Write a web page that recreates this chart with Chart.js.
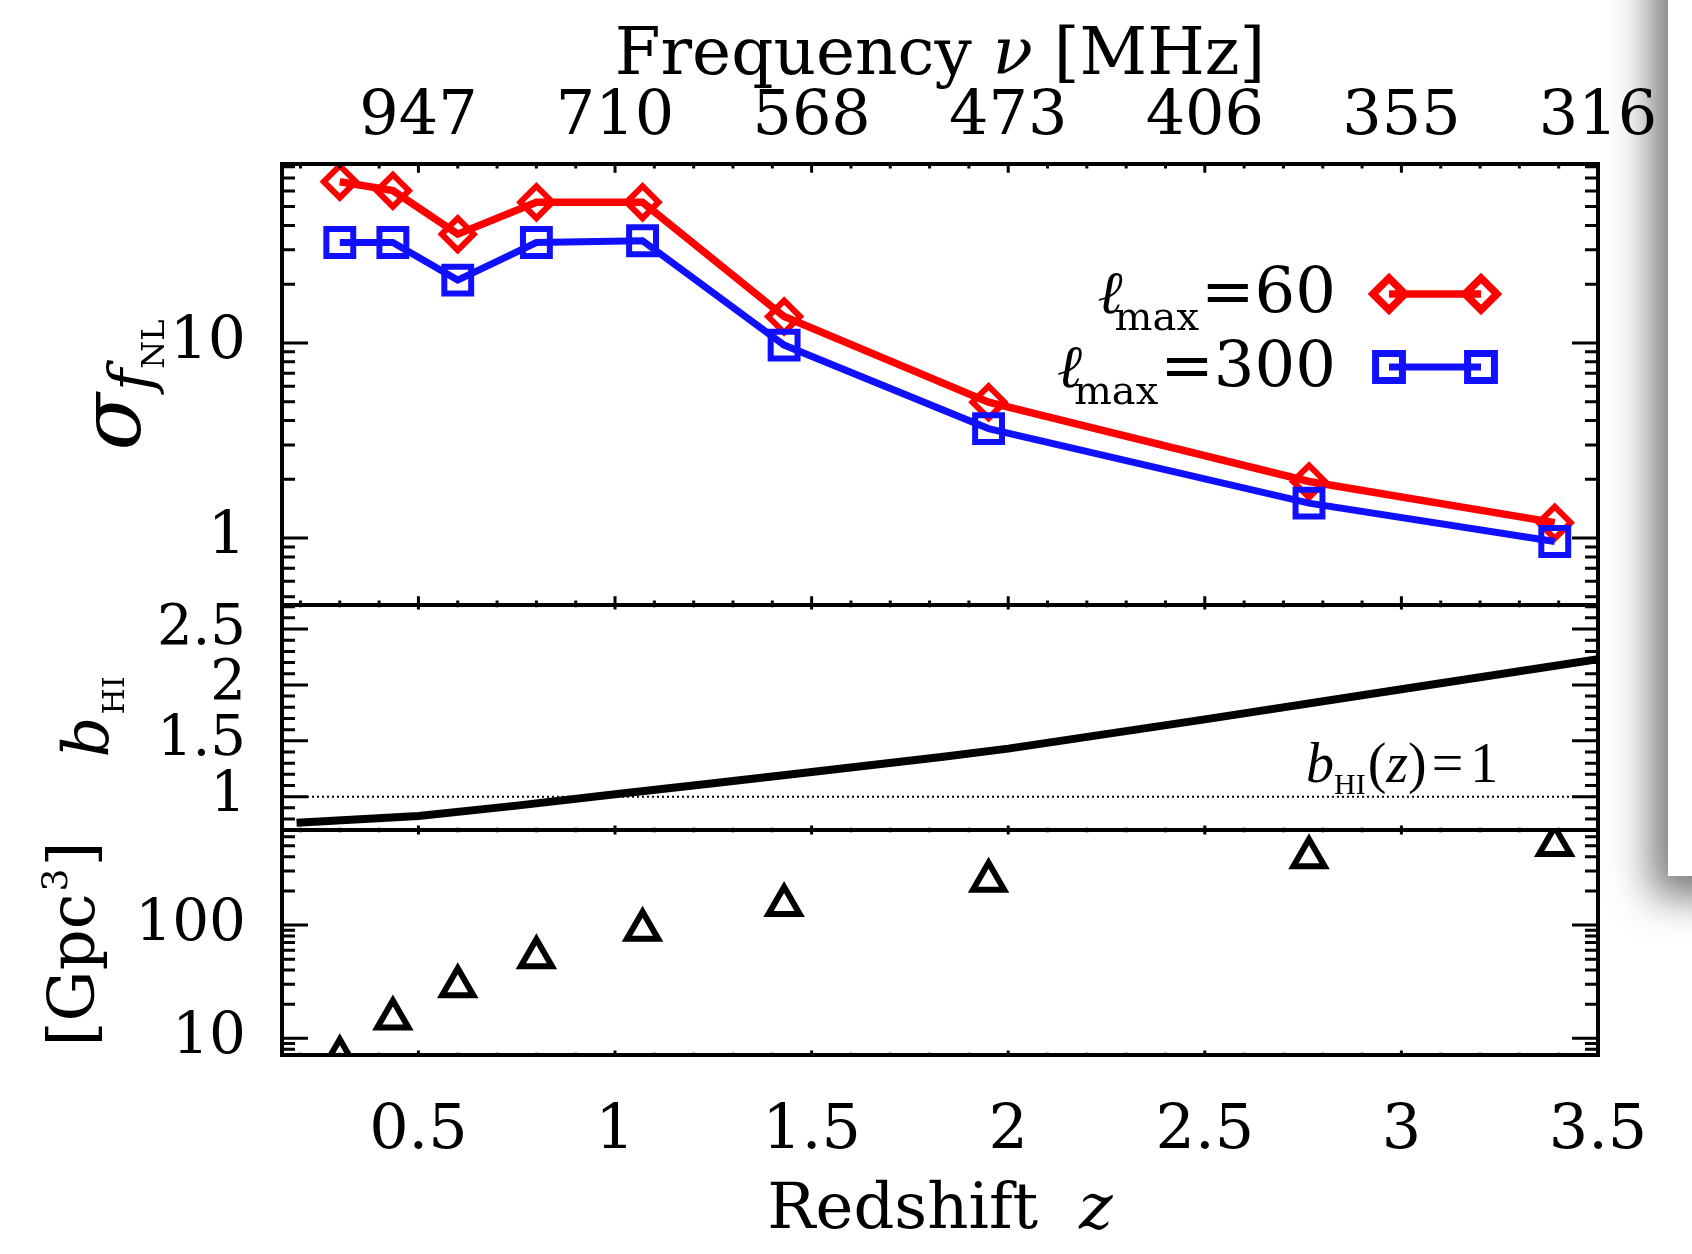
<!DOCTYPE html>
<html>
<head>
<meta charset="utf-8">
<script src="https://cdn.jsdelivr.net/npm/chart.js@4.4.1/dist/chart.umd.min.js"></script>
<style>
  html, body { margin: 0; padding: 0; background: #fff; }
  body { width: 1692px; height: 1254px; position: relative; overflow: hidden; }
  #shadowBox { position: absolute; left: 1668px; top: -60px; width: 80px; height: 936px; background: #fff;
               box-shadow: -8px 12px 42px 8px rgba(0,0,0,0.55); }
  #plot { position: absolute; left: 0; top: 0; }
</style>
</head>
<body>
<div id="shadowBox"></div>
<canvas id="plot" width="1692" height="1254"></canvas>
<script>
// redshift bins, shared by the three panels
const redshifts = [0.30, 0.435, 0.60, 0.80, 1.07, 1.43, 1.95, 2.765, 3.39];
// sigma(f_NL) forecasts
const sigmaL60  = [67.0, 60.3, 36.1, 52.6, 52.6, 13.65, 4.97, 1.95, 1.20];
const sigmaL300 = [32.7, 32.7, 21.0, 32.7, 33.4, 9.75, 3.64, 1.51, 0.96];
// bin volumes [Gpc^3]
const volumes = [6.8, 15.0, 28.8, 51.9, 90.9, 150, 246, 396, 508];
// HI bias curve b_HI(z)
const biasZ = [0.19, 0.5, 0.75, 1.0, 1.25, 1.5, 1.83, 2.0, 2.5, 3.0, 3.5];
const biasB = [0.767, 0.827, 0.92, 1.021, 1.12, 1.221, 1.355, 1.43, 1.692, 1.961, 2.229];

// axes
const zTicks = [0.5, 1, 1.5, 2, 2.5, 3, 3.5];
const zLabels = ['0.5', '1', '1.5', '2', '2.5', '3', '3.5'];
const freqLabels = ['947', '710', '568', '473', '406', '355', '316'];
const sigmaTicks = [1, 10];
const biasTicks = [1, 1.5, 2, 2.5];
const volumeTicks = [10, 100];
const lmaxLabels = ['60', '300'];

const zRange = [0.153, 3.5];
const sigmaRange = [0.454, 82.6];
const biasRange = [0.702, 2.715];
const volumeRange = [7.13, 689];

const RED = '#ff0000';
const BLUE = '#1010ff';
const SERIF = "'DejaVu Serif', serif";
const TIMES = "'Liberation Serif', serif";

const xy = (xs, ys) => xs.map((x, i) => ({ x: x, y: ys[i] }));
const fixTicks = values => axis => { axis.ticks = values.map(v => ({ value: v })); };

function drawParts(ctx, parts, x, y, align) {
  let total = 0;
  parts.forEach(p => { ctx.font = p[1]; total += ctx.measureText(p[0]).width + (p[3] || 0); });
  let cx = align === 'center' ? x - total / 2 : (align === 'right' ? x - total : x);
  parts.forEach(p => {
    ctx.font = p[1];
    cx += (p[3] || 0);
    ctx.fillText(p[0], cx, y + (p[2] || 0));
    cx += ctx.measureText(p[0]).width;
  });
}

function logMinor(min, max) {
  const out = [];
  for (let d = -1; d <= 3; d++) {
    for (let m = 2; m <= 9; m++) {
      const v = m * Math.pow(10, d);
      if (v > min && v < max) out.push(v);
    }
  }
  return out;
}

const panelDecor = {
  id: 'panelDecor',
  afterDraw(chart) {
    const ctx = chart.ctx;
    const { left, right } = chart.chartArea;
    const xs = chart.scales.x;
    const panels = [
      { s: chart.scales.ySig, major: sigmaTicks, minor: logMinor(sigmaRange[0], sigmaRange[1]) },
      { s: chart.scales.yBias, major: biasTicks, minor: [0.8, 0.9, 1.1, 1.2, 1.3, 1.4, 1.6, 1.7, 1.8, 1.9, 2.1, 2.2, 2.3, 2.4, 2.6, 2.7] },
      { s: chart.scales.yVol, major: volumeTicks, minor: logMinor(volumeRange[0], volumeRange[1]) }
    ];
    const zMinor = [];
    for (let k = 2; k <= 34; k++) if (k % 5 !== 0) zMinor.push(k / 10);

    ctx.save();
    ctx.strokeStyle = '#000';
    ctx.lineCap = 'butt';
    panels.forEach(p => {
      const top = p.s.top, bot = p.s.bottom, h = bot - top;
      ctx.lineWidth = 3;
      ctx.beginPath();
      // x ticks, top and bottom edge of the panel
      [[zTicks, 0.02 * h], [zMinor, 0.01 * h]].forEach(([vals, len]) => {
        vals.forEach(v => {
          const px = xs.getPixelForValue(v);
          ctx.moveTo(px, top); ctx.lineTo(px, top + len);
          ctx.moveTo(px, bot); ctx.lineTo(px, bot - len);
        });
      });
      // y ticks, left and right edge
      [[p.major, 26], [p.minor, 13]].forEach(([vals, len]) => {
        vals.forEach(v => {
          const py = p.s.getPixelForValue(v);
          ctx.moveTo(left, py); ctx.lineTo(left + len, py);
          ctx.moveTo(right, py); ctx.lineTo(right - len, py);
        });
      });
      ctx.stroke();
      ctx.lineWidth = 4;
      ctx.strokeRect(left, top, right - left, h);
    });

    ctx.fillStyle = '#000';
    ctx.textBaseline = 'alphabetic';
    const midX = (left + right) / 2;
    // axis titles
    drawParts(ctx, [['Frequency ', '66px ' + SERIF], ['\u03bd', 'italic 66px ' + SERIF], [' [MHz]', '66px ' + SERIF]], midX, 74, 'center');
    drawParts(ctx, [['Redshift  ', '64px ' + SERIF], ['z', 'italic 64px ' + SERIF]], midX, 1228, 'center');

    const rot = (x, y, parts) => {
      ctx.save();
      ctx.translate(x, y);
      ctx.rotate(-Math.PI / 2);
      drawParts(ctx, parts, 0, 0, 'center');
      ctx.restore();
    };
    rot(140, 385, [['\u03c3', 'italic 84px ' + SERIF], ['f', 'italic 60px ' + SERIF, 12, 2], ['NL', '32px ' + SERIF, 24, 0]]);
    rot(108, 717, [['b', 'italic 64px ' + SERIF], ['HI', '30px ' + SERIF, 16, 2]]);
    rot(94, 944, [['[Gpc', '64px ' + SERIF], ['3', '36px ' + SERIF, -27, 2], [']', '64px ' + SERIF, 0, 2]]);

    // legend
    const ds = chart.data.datasets;
    const rows = [{ d: ds[0], lab: lmaxLabels[0], base: 313, yl: 294 }, { d: ds[1], lab: lmaxLabels[1], base: 387, yl: 367 }];
    rows.forEach(r => {
      ctx.fillStyle = '#000';
      drawParts(ctx, [['\u2113', 'italic 60px ' + SERIF], ['max', '40px ' + SERIF, 17, -8], ['=' + r.lab, '64px ' + SERIF, 0, 2]], 1336, r.base, 'right');
      ctx.strokeStyle = r.d.borderColor;
      ctx.lineWidth = r.d.borderWidth;
      ctx.beginPath(); ctx.moveTo(1389, r.yl); ctx.lineTo(1481, r.yl); ctx.stroke();
      const opts = { pointStyle: r.d.pointStyle, radius: r.d.pointRadius, borderWidth: r.d.pointBorderWidth, rotation: 0 };
      ctx.fillStyle = 'rgba(0,0,0,0)';
      Chart.helpers.drawPoint(ctx, opts, 1389, r.yl);
      Chart.helpers.drawPoint(ctx, opts, 1481, r.yl);
    });

    // b_HI(z) = 1 label
    ctx.fillStyle = '#000';
    const yb = chart.scales.yBias.getPixelForValue(1) - 15;
    drawParts(ctx, [['b', 'italic 56px ' + TIMES], ['HI', '30px ' + TIMES, 12, 0], ['(', '56px ' + TIMES, 0, 2], ['z', 'italic 56px ' + TIMES], [')', '56px ' + TIMES], ['=', '56px ' + TIMES, 0, 5], ['1', '56px ' + TIMES, 0, 7]], 1306, yb, 'left');
    ctx.restore();
  }
};

const tickFont = size => ({ family: SERIF, size: size });

new Chart(document.getElementById('plot'), {
  type: 'line',
  data: {
    datasets: [
      {
        label: 'lmax=60', data: xy(redshifts, sigmaL60), yAxisID: 'ySig', order: 2,
        borderColor: RED, borderWidth: 7.5, pointStyle: 'rectRot', pointRadius: 16, pointBorderWidth: 6,
        pointBorderColor: RED, pointBackgroundColor: 'rgba(0,0,0,0)', clip: 0
      },
      {
        label: 'lmax=300', data: xy(redshifts, sigmaL300), yAxisID: 'ySig', order: 1,
        borderColor: BLUE, borderWidth: 7, pointStyle: 'rect', pointRadius: 19, pointBorderWidth: 6,
        pointBorderColor: BLUE, pointBackgroundColor: 'rgba(0,0,0,0)', clip: 0
      },
      {
        label: 'b_HI', data: xy(biasZ, biasB), yAxisID: 'yBias', order: 3,
        borderColor: '#000', borderWidth: 8, pointRadius: 0, clip: 0
      },
      {
        label: 'b_HI = 1', data: xy(zRange, [1, 1]), yAxisID: 'yBias', order: 4,
        borderColor: '#000', borderWidth: 2, borderDash: [2, 3], pointRadius: 0, clip: 0
      },
      {
        label: 'volume', data: xy(redshifts, volumes), yAxisID: 'yVol', order: 5, showLine: false,
        pointStyle: 'triangle', pointRadius: 18, pointBorderWidth: 6, pointBorderColor: '#000',
        pointBackgroundColor: 'rgba(0,0,0,0)', clip: 0
      }
    ]
  },
  options: {
    responsive: false,
    devicePixelRatio: 1,
    animation: false,
    events: [],
    layout: { padding: { left: 0, right: 94, top: 0, bottom: 0 } },
    plugins: { legend: { display: false }, tooltip: { enabled: false } },
    scales: {
      x: {
        type: 'linear', position: 'bottom', min: zRange[0], max: zRange[1],
        afterBuildTicks: fixTicks(zTicks),
        ticks: { font: tickFont(62), color: '#000', padding: 32, maxRotation: 0, autoSkip: false, callback: (v, i) => zLabels[i] },
        grid: { display: false }, border: { display: false },
        afterFit: s => { s.height = 199; }
      },
      xTop: {
        type: 'linear', position: 'top', min: zRange[0], max: zRange[1],
        afterBuildTicks: fixTicks(zTicks),
        ticks: { font: tickFont(62), color: '#000', padding: 1, maxRotation: 0, autoSkip: false, callback: (v, i) => freqLabels[i] },
        grid: { display: false }, border: { display: false },
        afterFit: s => { s.height = 164; }
      },
      yVol: {
        type: 'logarithmic', position: 'left', stack: 'panels', stackWeight: 225,
        min: volumeRange[0], max: volumeRange[1],
        afterBuildTicks: fixTicks(volumeTicks),
        ticks: { font: tickFont(58), color: '#000', padding: 28, autoSkip: false, callback: v => String(v) },
        grid: { display: false }, border: { display: false },
        afterFit: s => { s.width = 282; }
      },
      yBias: {
        type: 'linear', position: 'left', stack: 'panels', stackWeight: 225,
        min: biasRange[0], max: biasRange[1],
        afterBuildTicks: fixTicks(biasTicks),
        ticks: { font: tickFont(56), color: '#000', padding: 28, autoSkip: false, callback: v => String(v) },
        grid: { display: false }, border: { display: false },
        afterFit: s => { s.width = 282; }
      },
      ySig: {
        type: 'logarithmic', position: 'left', stack: 'panels', stackWeight: 441,
        min: sigmaRange[0], max: sigmaRange[1],
        afterBuildTicks: fixTicks(sigmaTicks),
        ticks: { font: tickFont(60), color: '#000', padding: 28, autoSkip: false, callback: v => String(v) },
        grid: { display: false }, border: { display: false },
        afterFit: s => { s.width = 282; }
      }
    }
  },
  plugins: [panelDecor]
});
</script>
</body>
</html>
